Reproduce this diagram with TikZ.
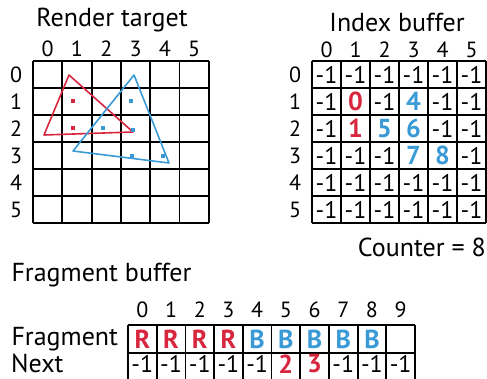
\documentclass[tikz,border=0pt]{standalone}
\usepackage{fontspec}
\setmainfont{PT Sans}
\usetikzlibrary{calc}
\definecolor{frred}{HTML}{D7263D}
\definecolor{frblue}{HTML}{3A9AD6}
\newcommand\hitR[1]{\textcolor{frred}{\fontsize{26}{28}\selectfont\bfseries #1}}
\newcommand\hitB[1]{\textcolor{frblue}{\fontsize{26}{28}\selectfont\bfseries #1}}

\begin{document}
\begin{tikzpicture}[x=1pt, y=-1pt, font=\fontsize{22}{24}\selectfont,
  grid/.style={line width=1.8pt},
  tri/.style={line width=1.6pt, line join=round},
  val/.style={font=\fontsize{24}{24}\selectfont, inner sep=0pt},
  title/.style={font=\fontsize{26}{28}\selectfont}]
\useasboundingbox (0,0) rectangle (487,379);

% render target
\node[title] (rt-title) at (112,20) {Render target};
\foreach \i in {0,...,6} {
  \draw[grid] ({33+29.3*\i},61) -- ({33+29.3*\i},223);
  \draw[grid] (33,{61+27*\i}) -- (209,{61+27*\i});
}
\foreach \i in {0,...,5} {
  \node (rt-col-\i) at ({33+29.3*(\i+0.5)},49) {\i};
  \node (rt-row-\i) at (16,{61+27*(\i+0.5)}) {\i};
}

% triangles and covered pixels
\draw[tri, frred] (69,75) -- (44,135) -- (133,132) -- cycle;
\draw[tri, frblue] (134,75) -- (73,151) -- (169,163) -- cycle;
\foreach \p in {(73,101),(73,128)}
  \fill[frred] \p +(-2,-2) rectangle +(2,2);
\foreach \p in {(131,101),(103,128),(133,130),(132,156),(163,156)}
  \fill[frblue] \p +(-2,-2) rectangle +(2,2);

% index buffer
\node[title] (ib-title) at (397,22) {Index buffer};
\foreach \i in {0,...,6} {
  \draw[grid] ({312+29*\i},61) -- ({312+29*\i},223);
  \draw[grid] (312,{61+27*\i}) -- (486,{61+27*\i});
}
\foreach \i in {0,...,5} {
  \node (ib-col-\i) at ({312+29*(\i+0.5)},50) {\i};
  \node (ib-row-\i) at (295,{61+27*(\i+0.5)}) {\i};
}
\foreach \row [count=\r from 0] in {
    {-1,-1,-1,-1,-1,-1},
    {-1,\hitR{0},-1,\hitB{4},-1,-1},
    {-1,\hitR{1},\hitB{5},\hitB{6},-1,-1},
    {-1,-1,-1,\hitB{7},\hitB{8},-1},
    {-1,-1,-1,-1,-1,-1},
    {-1,-1,-1,-1,-1,-1}} {
  \foreach \v [count=\c from 0] in \row
    \node[val] (ib-\r-\c) at ({312+29*(\c+0.5)},{61+27*(\r+0.5)}) {\v};
}
\node[title, anchor=east, inner sep=1pt] (counter) at (487,247) {Counter = 8};

% fragment buffer
\node[title, anchor=west] (fb-title) at (8,275) {Fragment buffer};
\foreach \i in {0,...,10}
  \draw[grid] ({128+28.7*\i},325) -- ({128+28.7*\i},381);
\foreach \y in {325,353,381}
  \draw[grid] (128,\y) -- (415,\y);
\foreach \i in {0,...,9}
  \node (fb-col-\i) at ({128+28.7*(\i+0.5)},310) {\i};
\node[title, anchor=west] (fb-frag) at (8,339) {Fragment};
\node[title, anchor=west, inner sep=0pt] (fb-next) at (11,363) {Next};
\foreach \v [count=\c from 0] in {\hitR{R},\hitR{R},\hitR{R},\hitR{R},\hitB{B},\hitB{B},\hitB{B},\hitB{B},\hitB{B},{}}
  \node[val] (fb-frag-\c) at ({128+28.7*(\c+0.5)},339) {\v};
\foreach \v [count=\c from 0] in {-1,-1,-1,-1,-1,\hitR{2},\hitR{3},-1,-1,-1}
  \node[val] (fb-next-\c) at ({128+28.7*(\c+0.5)},364) {\v};
\end{tikzpicture}
\end{document}
